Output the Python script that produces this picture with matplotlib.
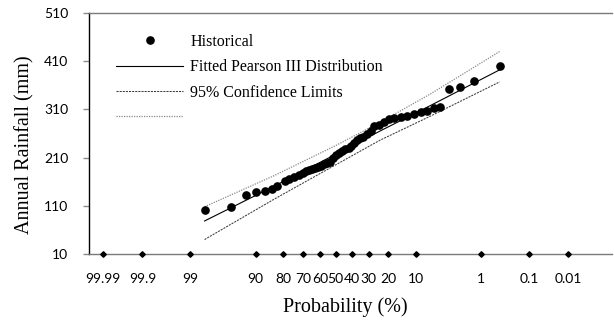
"""Annual rainfall frequency plot on a normal probability axis."""
from statistics import NormalDist

import matplotlib.pyplot as plt
import numpy as np

# exceedance probability (%) and annual rainfall (mm) of the historical record
hist_prob = [98.2, 95.3, 92.5, 89.9, 87.0, 84.4, 82.4, 79.3, 77.4, 75.0,
             72.0, 70.2, 68.1, 66.3, 64.5, 62.7, 60.9, 59.1, 57.2, 55.3,
             53.4, 51.5, 49.6, 47.6, 45.7, 43.8, 41.9, 40.1, 38.2, 36.4,
             34.6, 32.9, 30.7, 28.9, 27.1, 24.5, 22.2, 19.8, 17.6, 15.0,
             12.6, 10.6, 8.7, 7.2, 5.8, 4.8, 3.5, 2.35, 1.35, 0.44]
hist_rain = [101.4, 107.0, 133.2, 138.2, 141.5, 145.0, 151.3, 161.6, 165.8, 169.3,
             174.1, 177.6, 181.4, 183.5, 186.6, 188.6, 190.7, 192.8, 195.9, 198.0,
             201.1, 209.4, 215.7, 219.8, 224.0, 227.1, 230.2, 234.3, 240.6, 245.8,
             249.9, 253.0, 258.7, 265.5, 275.9, 278.6, 283.2, 289.8, 291.9, 294.0,
             296.7, 300.8, 304.4, 307.7, 312.7, 316.0, 352.8, 357.5, 367.9, 400.5]

# fitted distribution and confidence limits
curve_prob = [98.2, 84, 50, 24, 6.5, 0.44]
fitted_rain = [78.5, 150, 217, 265, 318, 392]
upper_rain = [108, 172, 235, 283, 342, 430]
lower_rain = [40, 123, 195, 246, 296, 367]

tick_prob = [99.99, 99.9, 99, 90, 80, 70, 60, 50, 40, 30, 20, 10, 1, 0.1, 0.01]
tick_labels = ["99.99", "99.9", "99", "90", "80", "70", "60", "50", "40",
               "30", "20", "10", "1", "0.1", "0.01"]
y_ticks = [10, 110, 210, 310, 410, 510]

SANS = "Lato"
SERIF = "Liberation Serif"


def to_z(prob):
    """Exceedance probability in % -> standard normal variate."""
    nd = NormalDist()
    return np.array([nd.inv_cdf(1 - p / 100.0) for p in prob])


fig = plt.figure(figsize=(6.14, 3.2), dpi=100)
ax = fig.add_axes([89 / 614, 1 - 254 / 320, (612 - 89) / 614, (254 - 13) / 320])

ax.plot(to_z(curve_prob), fitted_rain, color="black", lw=0.8,
        label="Fitted Pearson III Distribution", zorder=3)
ax.plot(to_z(curve_prob), lower_rain, color="#3c3c3c", lw=0.75,
        ls=(0, (2, 1)), label="95% Confidence Limits", zorder=3)
ax.plot(to_z(curve_prob), upper_rain, color="#8a8a8a", lw=0.9,
        ls=(0, (1, 1)), label=" ", zorder=3)
ax.plot(to_z(hist_prob), hist_rain, "o", color="black", ms=5.2,
        label="Historical", zorder=4)

# diamond markers standing in for the x ticks, on the axis line
ax.plot(to_z(tick_prob), [y_ticks[0]] * len(tick_prob), "D", color="black",
        ms=2.8, clip_on=False, zorder=5)

ax.set_xlim(to_z([99.996])[0], to_z([0.0005])[0])
ax.set_ylim(10, 510)

ax.set_xticks(to_z(tick_prob))
ax.set_xticklabels(tick_labels, fontfamily=SANS, fontsize=10)
ax.tick_params(axis="x", length=0, pad=14)
ax.set_yticks(y_ticks)
ax.set_yticklabels([str(v) for v in y_ticks], fontfamily=SANS, fontsize=10)
ax.tick_params(axis="y", direction="out", length=4, width=1, color="#8c8c8c", pad=11)

ax.spines["right"].set_visible(False)
ax.spines["left"].set_color("black")
ax.spines["left"].set_linewidth(1.0)
ax.spines["bottom"].set_color("#7a7a7a")
ax.spines["top"].set_color("#7a7a7a")
ax.spines["bottom"].set_linewidth(1.0)
ax.spines["top"].set_linewidth(1.0)

ax.set_xlabel("Probability (%)", fontfamily=SERIF, fontsize=14.5)
ax.set_ylabel("Annual Rainfall (mm)", fontfamily=SERIF, fontsize=14.5)
ax.xaxis.set_label_coords(0.49, -0.178)
ax.yaxis.set_label_coords(-0.105, 0.455)

handles, labels = ax.get_legend_handles_labels()
order = [3, 0, 1, 2]
ax.legend([handles[i] for i in order], [labels[i] for i in order],
          loc="upper left", bbox_to_anchor=(116 / 614, 1 - 34 / 320),
          bbox_transform=fig.transFigure, frameon=False, borderpad=0,
          borderaxespad=0, handlelength=4.2, handletextpad=0.45,
          labelspacing=0.58, prop={"family": SERIF, "size": 11.5})

fig.savefig("out.png", dpi=100)
